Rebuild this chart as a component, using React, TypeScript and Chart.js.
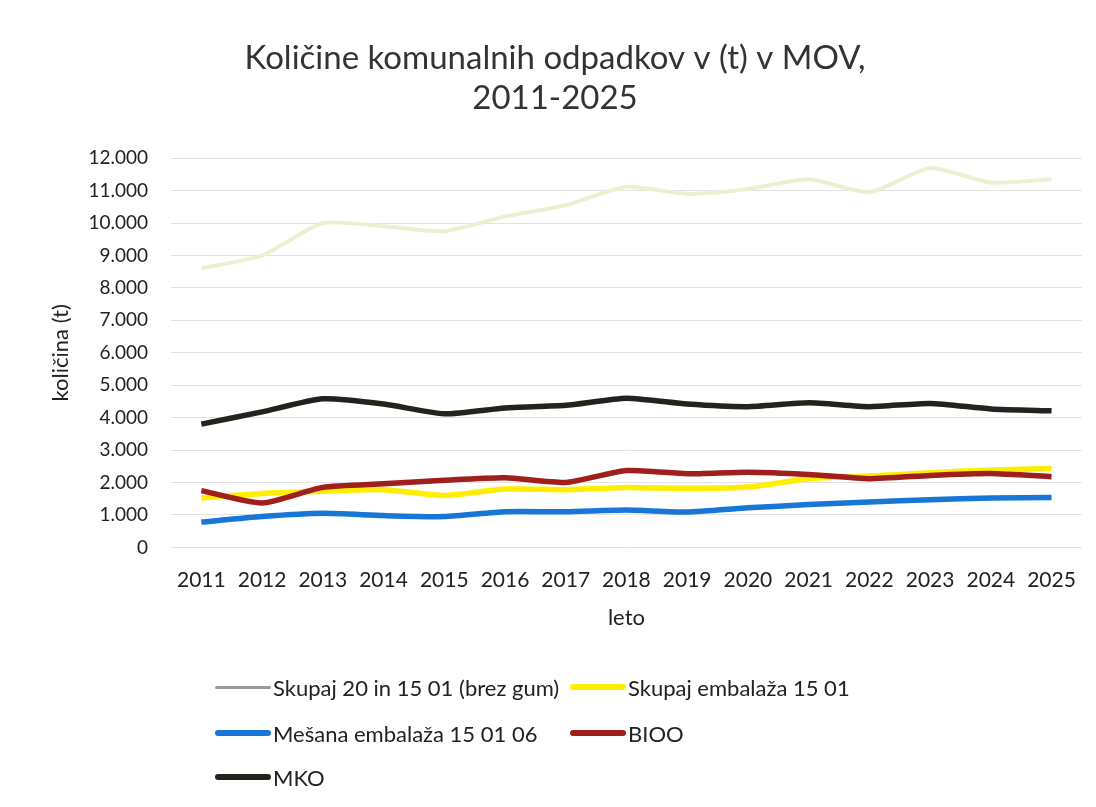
import React, { useEffect, useRef } from "react";
import { Chart, registerables } from "chart.js";

Chart.register(...registerables);

const years = ["2011","2012","2013","2014","2015","2016","2017","2018","2019","2020","2021","2022","2023","2024","2025"];
const skupajTotal = [8600, 9000, 10000, 9900, 9750, 10200, 10550, 11120, 10900, 11050, 11350, 10950, 11700, 11250, 11350];
const skupajEmbalaza = [1530, 1660, 1730, 1780, 1600, 1800, 1780, 1850, 1820, 1860, 2120, 2200, 2300, 2390, 2430];
const mesanaEmbalaza = [780, 950, 1050, 980, 950, 1100, 1100, 1150, 1090, 1220, 1320, 1400, 1470, 1520, 1540];
const bioo = [1750, 1370, 1850, 1960, 2070, 2150, 2000, 2370, 2270, 2320, 2250, 2120, 2220, 2280, 2180];
const mko = [3800, 4180, 4580, 4420, 4120, 4300, 4380, 4600, 4420, 4340, 4460, 4340, 4440, 4270, 4210];

const seriesNames = ["Skupaj 20 in 15 01 (brez gum)", "Skupaj embalaža 15 01", "Mešana embalaža 15 01 06", "BIOO", "MKO"];
const seriesColors = ["#f0eed2", "#ffee00", "#1877d6", "#a01e1c", "#22231c"];
const FONT = "Lato, 'Open Sans', sans-serif";

export default function App() {
  const ref = useRef<HTMLCanvasElement | null>(null);
  useEffect(() => {
    if (!ref.current) return;
    const data = [skupajTotal, skupajEmbalaza, mesanaEmbalaza, bioo, mko];
    const chart = new Chart(ref.current, {
      type: "line",
      data: {
        labels: years,
        datasets: data.map((d, i) => ({
          label: seriesNames[i],
          data: d,
          borderColor: seriesColors[i],
          backgroundColor: seriesColors[i],
          borderWidth: i === 0 ? 4 : 5.5,
          pointRadius: 0,
          tension: 0.2,
          fill: false,
          order: i === 0 ? 10 : 5 - i,
        })),
      },
      options: {
        animation: false,
        responsive: false,
        maintainAspectRatio: false,
        layout: { padding: { left: 17, right: 3, top: 31, bottom: 164 } },
        plugins: {
          legend: { display: false },
          tooltip: { enabled: false },
          title: {
            display: true,
            text: ["Količine komunalnih odpadkov v (t) v MOV,", "2011-2025"],
            color: "#333333",
            font: { family: FONT, size: 33, weight: "normal" },
            lineHeight: 1.25,
            padding: { top: 0, bottom: 40 },
          },
        },
        scales: {
          x: {
            offset: true,
            grid: { display: false },
            border: { display: false },
            ticks: { color: "#222", font: { family: FONT, size: 21 }, padding: 12, maxRotation: 0 },
            title: { display: true, text: "leto", color: "#222", font: { family: FONT, size: 22 }, padding: { top: 0 } },
          },
          y: {
            min: 0,
            max: 12000,
            grid: { color: "#e2e2e2", lineWidth: 1, drawTicks: false },
            border: { display: false },
            ticks: {
              stepSize: 1000,
              color: "#222",
              font: { family: FONT, size: 19 },
              padding: 23,
              callback: (v: any) => Number(v).toLocaleString("de-DE"),
            },
            title: { display: true, text: "količina (t)", color: "#222", font: { family: FONT, size: 22 }, padding: { top: 23, bottom: -9 } },
          },
        },
      },
    });
    return () => chart.destroy();
  }, []);

  const legendRows = [
    [0, 1],
    [2, 3],
    [4],
  ];
  const colX = [207, 562];
  const rowY = [679, 725, 769];

  return (
    <div style={{ position: "relative", width: 1080, height: 791, background: "#fff" }}>
      <canvas ref={ref} width={1080} height={791} style={{ position: "absolute", left: 0, top: 0 }} />
      {legendRows.map((row, r) =>
        row.map((idx, c) => (
          <div
            key={idx}
            style={{
              position: "absolute",
              left: colX[c],
              top: rowY[r] - 14,
              height: 28,
              display: "flex",
              alignItems: "center",
              fontFamily: FONT,
              fontSize: 22,
              color: "#222",
              whiteSpace: "nowrap",
            }}
          >
            <span
              style={{
                display: "inline-block",
                width: 56,
                height: idx === 0 ? 3 : 6,
                borderRadius: 3,
                background: idx === 0 ? "#9a9a9a" : seriesColors[idx],
                marginRight: 2,
              }}
            />
            <span>{seriesNames[idx]}</span>
          </div>
        ))
      )}
    </div>
  );
}
